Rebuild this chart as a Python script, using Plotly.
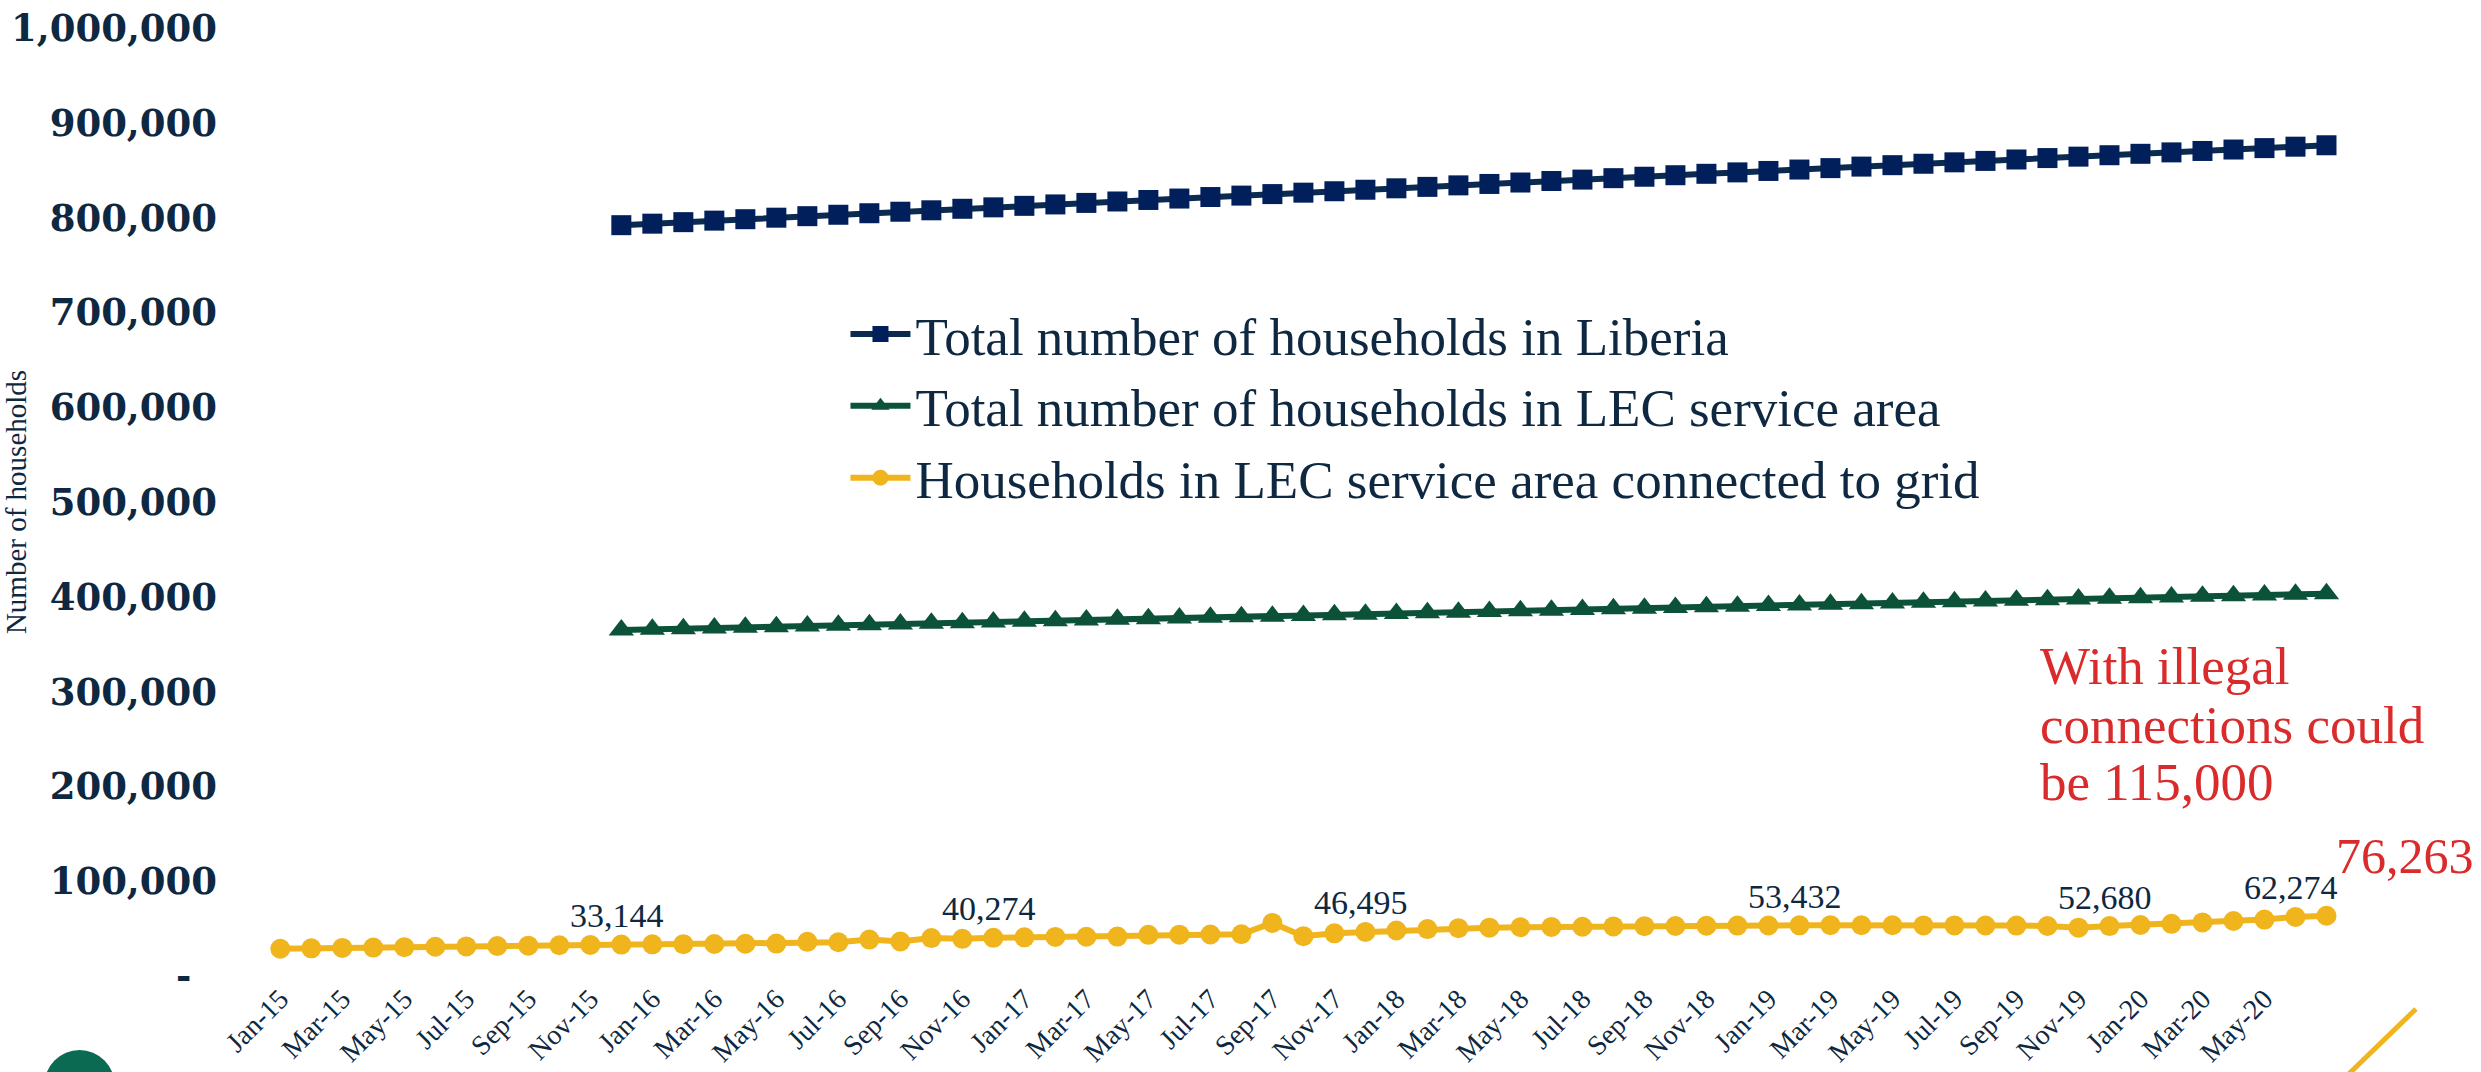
import plotly.graph_objects as go

months = []
for yr in range(15, 21):
    for m in ["Jan", "Feb", "Mar", "Apr", "May", "Jun", "Jul", "Aug", "Sep", "Oct", "Nov", "Dec"]:
        months.append(f"{m}-{yr}")
months = months[:67]  # Jan-15 .. Jul-20
tick_labels = months[:66:2]  # Jan-15 .. May-20

# Total number of households in Liberia (starts Dec-15)
liberia = [None] * 11 + [
    792000, 793600, 795200, 796800, 798300, 799900, 801500, 803000, 804600, 806200, 807700, 809300,
    810800, 812400, 813900, 815500, 817000, 818600, 820100, 821700, 823200, 824800, 826300, 827800,
    829400, 830900, 832400, 834000, 835500, 837000, 838600, 840100, 841600, 843100, 844700, 846200,
    847700, 849200, 850700, 852200, 853800, 855300, 856800, 858300, 859800, 861300, 862800, 864300,
    865800, 867300, 868800, 870300, 871800, 873300, 874800, 876300,
]

# Total number of households in LEC service area (starts Dec-15)
lec_area = [None] * 11 + [
    365000, 365700, 366400, 367100, 367800, 368500, 369200, 369900, 370600, 371300, 372000, 372700,
    373400, 374100, 374800, 375500, 376200, 376900, 377600, 378300, 379000, 379600, 380300, 381000,
    381700, 382400, 383100, 383800, 384500, 385200, 385900, 386600, 387300, 388000, 388700, 389400,
    390100, 390800, 391400, 392100, 392800, 393500, 394200, 394900, 395600, 396300, 397000, 397700,
    398400, 399100, 399800, 400500, 401200, 401900, 402600, 403300,
]

# Households in LEC service area connected to grid
connected = [
    28800, 29200, 29600, 30000, 30400, 30800, 31200, 31600, 32000, 32400, 32800, 33144,
    33400, 33600, 33800, 34000, 34200, 36000, 35600, 38400, 36400, 40000, 39200, 40274,
    40800, 41200, 41400, 41600, 43400, 43600, 43800, 44000, 56000, 42000, 45000, 46495,
    48000, 49500, 50500, 51000, 51400, 51800, 52000, 52300, 52600, 52800, 53000, 53200,
    53300, 53432, 53600, 53500, 53500, 53400, 53400, 53300, 53200, 52800, 51000, 52680,
    53800, 55000, 56500, 58000, 59500, 62274, 63500,
]

label_idx = [11, 23, 35, 49, 59, 65]

note_lines = ["With illegal", "connections could", "be 115,000"]
projection_text = "76,263"

y_ticks = list(range(0, 1000001, 100000))
y_ticktext = ["-\u00a0\u00a0"] + [f"{v:,}" for v in y_ticks[1:]]

NAVY_TXT = "#0E2841"
RED = "#D92B2B"
SERIF = "Liberation Serif"

fig = go.Figure()
fig.add_trace(go.Scatter(
    x=months, y=liberia, name="Total number of households in Liberia",
    mode="lines+markers", legendgroup="a",
    line=dict(color="#0B2A4F", width=6),
    marker=dict(symbol="square", size=20, color="#001F5B"),
))
fig.add_trace(go.Scatter(
    x=months, y=lec_area, name="Total number of households in LEC service area",
    mode="lines+markers", legendgroup="b",
    line=dict(color="#0B5238", width=6),
    marker=dict(symbol="triangle-up", size=22, color="#0B5238"),
))
fig.add_trace(go.Scatter(
    x=months, y=connected, name="Households in LEC service area connected to grid",
    mode="lines+markers", legendgroup="c",
    line=dict(color="#F0B41C", width=6),
    marker=dict(symbol="circle", size=20, color="#F0B41C"),
))

# data labels on selected points of the connected series
for i in label_idx:
    fig.add_annotation(
        x=months[i], y=connected[i], text=f"{connected[i]:,}", showarrow=False,
        yanchor="middle", yshift=29, xshift=-4,
        font=dict(family=SERIF, size=34, color=NAVY_TXT),
    )

note_y = [0.3271, 0.2648, 0.2046]
for line_txt, yy in zip(note_lines, note_y):
    fig.add_annotation(
        x=0.8077, y=yy, xref="paper", yref="paper", xanchor="left", yanchor="middle",
        text=line_txt, align="left", showarrow=False,
        font=dict(family=SERIF, size=53, color=RED),
    )
fig.add_annotation(
    x=0.9407, y=0.1266, xref="paper", yref="paper", xanchor="left", yanchor="middle",
    text=projection_text, showarrow=False,
    font=dict(family=SERIF, size=50, color=RED),
)

# decorative elements at the page border
fig.add_shape(type="line", xref="paper", yref="paper", x0=0.9775, y0=-0.0348, x1=0.94, y1=-0.12,
              line=dict(color="#F0B41C", width=5))
fig.add_shape(type="circle", xref="paper", yref="paper", x0=-0.088, y0=-0.154, x1=-0.0562, y1=-0.078,
              fillcolor="#0B6B52", line=dict(width=0))

fig.update_layout(
    width=2481, height=1072,
    margin=dict(l=240, r=15, t=28, b=96, autoexpand=False),
    paper_bgcolor="white", plot_bgcolor="white",
    showlegend=True,
    legend=dict(
        x=0.272, y=0.7205, xanchor="left", yanchor="top",
        font=dict(family=SERIF, size=53, color=NAVY_TXT),
        bgcolor="rgba(0,0,0,0)", tracegroupgap=0, itemwidth=60,
    ),
    xaxis=dict(
        type="category", categoryorder="array", categoryarray=months,
        range=[-1.3, 70.5], tickmode="array", tickvals=tick_labels, ticktext=tick_labels,
        tickangle=-45, showgrid=False, zeroline=False, showline=False, automargin=False,
        tickfont=dict(family=SERIF, size=28, color=NAVY_TXT),
    ),
    yaxis=dict(
        range=[0, 1000000], tickmode="array", tickvals=y_ticks, ticktext=y_ticktext,
        showgrid=False, zeroline=False, showline=False, automargin=False,
        ticklabelstandoff=22,
        tickfont=dict(family="DejaVu Serif", size=37, color=NAVY_TXT, weight="bold"),
        title=dict(text="Number of households", standoff=4,
                   font=dict(family=SERIF, size=29, color=NAVY_TXT)),
    ),
)

fig.write_html("out.html")
